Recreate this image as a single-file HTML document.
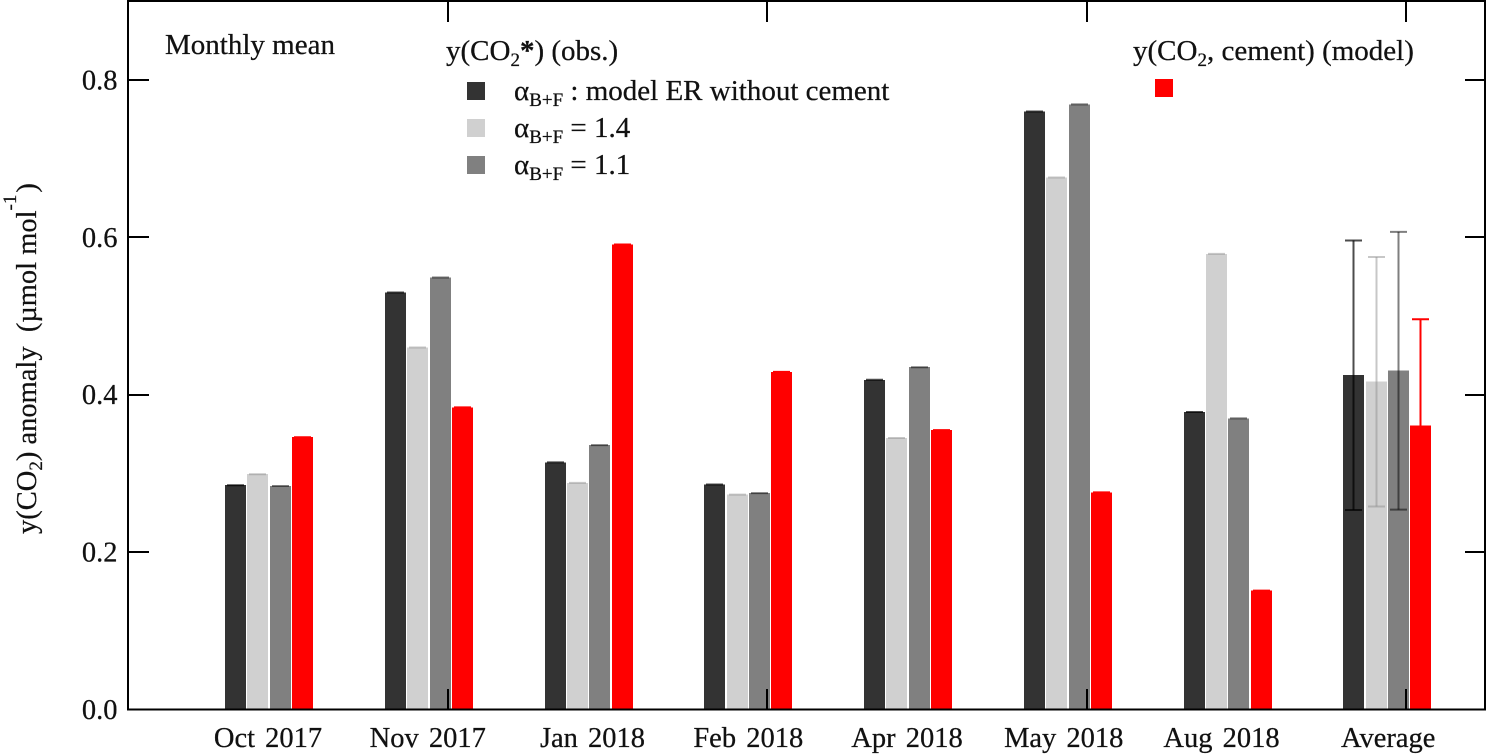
<!DOCTYPE html>
<html lang="en">
<head>
<meta charset="utf-8">
<title>Monthly mean CO2 anomaly</title>
<style>
  html, body { margin: 0; padding: 0; background: #fff; }
  svg { display: block; }
  text { font-family: "Liberation Serif", "Times New Roman", serif; font-size: 28.5px; fill: #111; stroke: #111; stroke-width: 0.25px; }
  .big { font-size: 29px; }
  .sub { font-size: 19px; }
</style>
</head>
<body>
<svg id="chart" xmlns="http://www.w3.org/2000/svg" width="1487" height="755" viewBox="0 0 1487 755">
  <g id="bars"></g>
  <g id="errors"></g>
  <g id="axes"></g>

  <text id="y-title" transform="translate(36,534) rotate(-90)" xml:space="preserve">y(CO<tspan class="sub" dy="6">2</tspan><tspan dy="-6">) anomaly  (µmol mol</tspan><tspan class="sub" dy="-20">-1</tspan><tspan dy="20" dx="2">)</tspan></text>

  <text class="big" x="165" y="54">Monthly mean</text>

  <g>
    <text class="big" x="446" y="60">y(CO<tspan class="sub" dy="6">2</tspan><tspan dy="-6" font-weight="bold">*</tspan>) (obs.)</text>
    <rect x="467" y="82" width="18" height="18" fill="#333333" shape-rendering="crispEdges"/>
    <text class="big" x="514" y="100">α<tspan class="sub" dy="6">B+F</tspan><tspan dy="-6"> : model ER without cement</tspan></text>
    <rect x="467" y="119" width="18" height="18" fill="#d0d0d0" shape-rendering="crispEdges"/>
    <text class="big" x="514" y="137">α<tspan class="sub" dy="6">B+F</tspan><tspan dy="-6"> = 1.4</tspan></text>
    <rect x="467" y="156" width="18" height="18" fill="#808080" shape-rendering="crispEdges"/>
    <text class="big" x="514" y="174">α<tspan class="sub" dy="6">B+F</tspan><tspan dy="-6"> = 1.1</tspan></text>
  </g>

  <g>
    <text class="big" x="1133" y="60">y(CO<tspan class="sub" dy="6">2</tspan><tspan dy="-6">, cement) (model)</tspan></text>
    <rect x="1155" y="79" width="18" height="18" fill="#ff0000" shape-rendering="crispEdges"/>
  </g>
</svg>

<script>
const categories = ["Oct 2017", "Nov 2017", "Jan 2018", "Feb 2018", "Apr 2018", "May 2018", "Aug 2018", "Average"];
const modelEr = [0.285, 0.530, 0.314, 0.286, 0.419, 0.760, 0.378, 0.425];
const alpha14 = [0.299, 0.460, 0.288, 0.273, 0.345, 0.676, 0.579, 0.417];
const alpha11 = [0.284, 0.549, 0.336, 0.275, 0.435, 0.769, 0.370, 0.431];
const cement = [0.346, 0.384, 0.591, 0.429, 0.355, 0.276, 0.151, 0.361];
const averageErrLow = [0.2535, 0.258, 0.254, 0.226];
const averageErrHigh = [0.596, 0.575, 0.607, 0.496];
const yTicks = [0.0, 0.2, 0.4, 0.6, 0.8];
const yTickLabels = ["0.0", "0.2", "0.4", "0.6", "0.8"];

const NS = "http://www.w3.org/2000/svg";
const yScale = function (v) { return 709.5 - v * 786.9; };
const groupX = function (i) { return 225 + i * 159.75; };
const barX = function (i, s) { return Math.round(groupX(i) + s * 22.4); };

function make(parent, tag, attrs) {
  const el = document.createElementNS(NS, tag);
  for (const k in attrs) el.setAttribute(k, attrs[k]);
  parent.appendChild(el);
  return el;
}

function labelOffset(i) {
  return [-1, -1, 4, 0, -1, -4, -6, 1][i];
}

const series = [modelEr, alpha14, alpha11, cement];
const seriesNames = ["model-er", "alpha-1-4", "alpha-1-1", "cement"];
const fills = ["#333333", "#d0d0d0", "#808080", "#ff0000"];
const capStroke = ["#000000", "#8f8f8f", "#000000", "#ff0000"];
const capOpacity = [0.7, 0.5, 0.5, 1];

const barsG = document.getElementById("bars");
const errG = document.getElementById("errors");
const axesG = document.getElementById("axes");

series.forEach(function (vals, s) {
  vals.forEach(function (v, i) {
    const x = barX(i, s);
    const top = yScale(v);
    const bar = make(barsG, "rect", { x: x, y: top, width: 21, height: 709.5 - top, fill: fills[s], "shape-rendering": "crispEdges" });
    
    
    const isAverage = i === categories.length - 1;
    const cx = x + 10.5;
    if (isAverage) {
      const hi = yScale(averageErrHigh[s]);
      const lo = yScale(averageErrLow[s]);
      const stem = make(errG, "line", { x1: cx, x2: cx, y1: hi, y2: lo, stroke: capStroke[s], "stroke-opacity": capOpacity[s], "stroke-width": 2 });
      
      
      const capHi = make(errG, "line", { x1: cx - 8.5, x2: cx + 8.5, y1: hi, y2: hi, stroke: capStroke[s], "stroke-opacity": capOpacity[s], "stroke-width": 2 });
      
      
      const capLo = make(errG, "line", { x1: cx - 8.5, x2: cx + 8.5, y1: lo, y2: lo, stroke: capStroke[s], "stroke-opacity": capOpacity[s], "stroke-width": 2 });
      
      
    } else {
      const cap = make(errG, "line", { x1: cx - 8.5, x2: cx + 8.5, y1: top, y2: top, stroke: capStroke[s], "stroke-opacity": capOpacity[s], "stroke-width": 2 });
      
      
    }
  });
});

const frame = make(axesG, "rect", { x: 128, y: 1, width: 1357, height: 708.5, fill: "none", stroke: "#000", "stroke-width": 2, "shape-rendering": "crispEdges" });



yTicks.forEach(function (t, i) {
  const y = Math.round(yScale(t));
  if (t > 0) {
    const l = make(axesG, "line", { x1: 128, x2: 149, y1: y, y2: y, stroke: "#000", "stroke-width": 2, "shape-rendering": "crispEdges" });
    
    
    const r = make(axesG, "line", { x1: 1465, x2: 1485, y1: y, y2: y, stroke: "#000", "stroke-width": 2, "shape-rendering": "crispEdges" });
    
    
  }
  const lab = make(axesG, "text", { x: 117.5, y: yScale(t) + 9.5, "text-anchor": "end" });
  lab.textContent = yTickLabels[i];
  
  
});

categories.forEach(function (c, i) {
  const center = groupX(i) + 44 + labelOffset(i);
  const lab = make(axesG, "text", { x: center, y: 747, "text-anchor": "middle", style: "word-spacing:3px" });
  lab.textContent = c;
  
  
  if (i % 2 === 1) {
    const x = Math.round(groupX(i) + 63);
    const b = make(axesG, "line", { x1: x, x2: x, y1: 689, y2: 709, stroke: "#000", "stroke-width": 2, "shape-rendering": "crispEdges" });
    
    
    const t = make(axesG, "line", { x1: x, x2: x, y1: 1, y2: 22, stroke: "#000", "stroke-width": 2, "shape-rendering": "crispEdges" });
    
    
  }
});
</script>
</body>
</html>
